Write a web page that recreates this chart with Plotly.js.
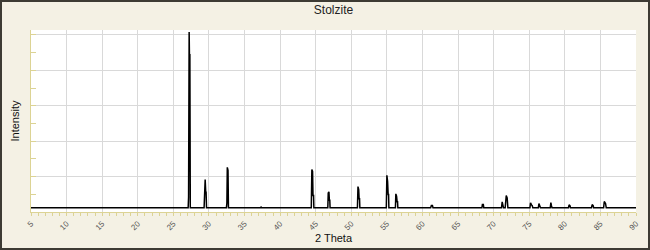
<!DOCTYPE html>
<html>
<head>
<meta charset="utf-8">
<script src="https://cdn.plot.ly/plotly-3.0.1.min.js"></script>
<style>
html,body{margin:0;padding:0;background:#f4f1e4;}
#wrap{position:relative;width:650px;height:250px;}
#chart{width:650px;height:250px;}
#frame{position:absolute;left:0;top:0;width:650px;height:250px;box-sizing:border-box;border:2px solid #3d3b33;pointer-events:none;}
</style>
</head>
<body>
<div id="wrap"><div id="chart"></div><div id="frame"></div></div>
<script>
// Diffraction pattern of Stolzite (2 Theta in degrees, intensity in counts)
const twoTheta = [
  5, 27.08, 27.14, 27.22, 27.26, 27.32, 27.38,
  29.32, 29.40, 29.47, 29.55, 29.60, 29.66,
  32.45, 32.52, 32.58, 32.68, 32.74,
  37.28, 37.35, 37.42,
  44.38, 44.46, 44.56, 44.62, 44.70, 44.74,
  46.70, 46.76, 46.86, 46.92, 46.98, 47.02,
  50.86, 50.94, 51.04, 51.10, 51.16, 51.20,
  54.92, 55.00, 55.10, 55.18, 55.24, 55.28,
  56.20, 56.26, 56.36, 56.44, 56.50, 56.54,
  61.15, 61.25, 61.40, 61.48,
  68.35, 68.42, 68.55, 68.62,
  71.10, 71.20, 71.30, 71.38,
  71.62, 71.70, 71.77, 71.90, 72.00,
  75.10, 75.18, 75.32, 75.42, 75.50,
  76.28, 76.36, 76.50, 76.58,
  77.95, 78.04, 78.12, 78.20,
  80.52, 80.60, 80.72, 80.80,
  83.75, 83.84, 83.98, 84.05,
  85.45, 85.54, 85.72, 85.82,
  90
];
const intensity = [
  120, 120, 420, 5085, 4445, 4445, 120,
  120, 400, 915, 558, 558, 120,
  120, 250, 1262, 1177, 120,
  120, 150, 120,
  120, 1197, 1150, 465, 465, 120,
  120, 540, 568, 332, 332, 120,
  120, 718, 634, 372, 372, 120,
  120, 1037, 868, 493, 493, 120,
  120, 513, 445, 287, 287, 120,
  120, 183, 183, 120,
  120, 211, 211, 120,
  120, 287, 200, 120,
  120, 250, 465, 400, 120,
  120, 259, 200, 180, 120,
  120, 240, 180, 120,
  120, 268, 180, 120,
  120, 203, 180, 120,
  120, 211, 180, 120,
  120, 296, 240, 120,
  120
];
const chartTitle = "Stolzite";
const xTitle = "2 Theta";
const yTitle = "Intensity";

const axisYellow = '#dcd394';
const gridGray = '#d9d9d9';

Plotly.newPlot('chart', [{
  x: twoTheta,
  y: intensity,
  type: 'scatter',
  mode: 'lines',
  line: {color: '#000000', width: 1.5},
  hoverinfo: 'skip'
}], {
  width: 650, height: 250,
  paper_bgcolor: '#f4f1e4',
  plot_bgcolor: '#ffffff',
  margin: {l: 31, r: 14, t: 30, b: 37.5},
  showlegend: false,
  title: {text: chartTitle, x: 0.5, xref: 'paper', xanchor: 'center', y: 0.985, yref: 'container', yanchor: 'top',
          font: {family: 'Liberation Sans, Arial, sans-serif', size: 12, color: '#222222'}, pad: {t: 2}},
  xaxis: {
    range: [5, 90], tick0: 5, dtick: 5,
    showgrid: true, gridcolor: gridGray, gridwidth: 1,
    zeroline: false,
    showline: true, linecolor: axisYellow, linewidth: 1,
    ticks: 'outside', ticklen: 3, tickcolor: axisYellow, tickwidth: 1,
    minor: {dtick: 1, ticks: 'outside', ticklen: 3, tickcolor: axisYellow, showgrid: false},
    tickangle: -45,
    tickfont: {family: 'Liberation Sans, Arial, sans-serif', size: 8, color: '#555555'},
    title: {text: xTitle, standoff: 0, font: {family: 'Liberation Sans, Arial, sans-serif', size: 11, color: '#111111'}},
    fixedrange: true
  },
  yaxis: {
    range: [0, 5141], tick0: 0, dtick: 1000,
    showgrid: true, gridcolor: gridGray, gridwidth: 1,
    zeroline: false,
    showline: true, linecolor: axisYellow, linewidth: 1,
    ticks: 'inside', ticklen: 5, tickcolor: axisYellow,
    minor: {dtick: 500, ticks: 'inside', ticklen: 5, tickcolor: axisYellow, showgrid: false},
    showticklabels: false,
    title: {text: yTitle, standoff: 8, font: {family: 'Liberation Sans, Arial, sans-serif', size: 11, color: '#111111'}},
    fixedrange: true
  }
}, {displayModeBar: false, staticPlot: true});
</script>
</body>
</html>
